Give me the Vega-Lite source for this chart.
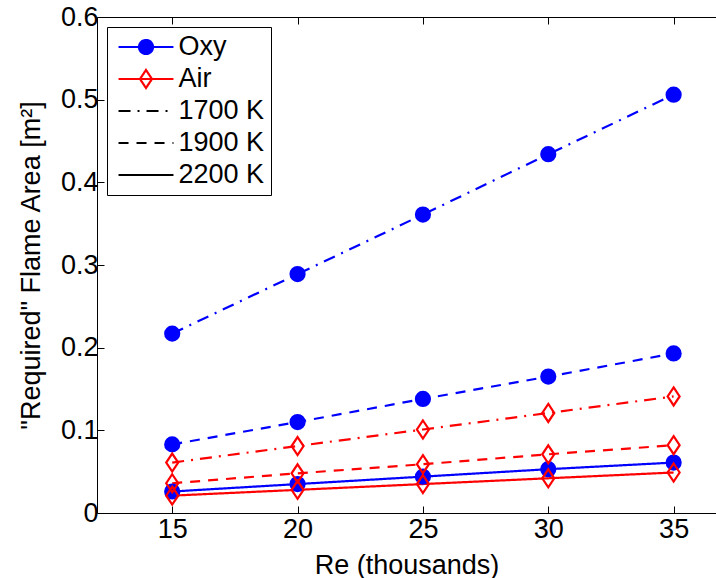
{
  "$schema": "https://vega.github.io/schema/vega-lite/v6.json",
  "width": 619,
  "height": 496,
  "autosize": {"type": "none"},
  "padding": {"left": 97, "top": 17, "right": 0, "bottom": 65},
  "background": "#ffffff",
  "config": {
    "view": {"stroke": null},
    "font": "Liberation Sans",
    "axis": {
      "domainColor": "#000000",
      "domainWidth": 1,
      "tickColor": "#000000",
      "tickWidth": 1,
      "tickSize": -7,
      "labelColor": "#000000",
      "labelFontSize": 27,
      "labelFont": "Liberation Sans",
      "titleFontSize": 27,
      "titleFont": "Liberation Sans",
      "titleFontWeight": "normal",
      "titleColor": "#000000",
      "grid": false
    },
    "legend": {
      "orient": "top-left",
      "offset": 10,
      "padding": 6.5,
      "strokeColor": "#000000",
      "fillColor": "#ffffff",
      "cornerRadius": 0,
      "labelFontSize": 27,
      "labelFont": "Liberation Sans",
      "labelColor": "#000000",
      "labelOffset": 19,
      "labelLimit": 300,
      "symbolOffset": 19,
      "symbolSize": 576,
      "symbolStrokeWidth": 2.2,
      "symbolOpacity": 1,
      "rowPadding": 4
    }
  },
  "datasets": {
    "main": [
      {"series": "Oxy", "temp": "1700 K", "re": 15, "area": 0.217},
      {"series": "Oxy", "temp": "1700 K", "re": 20, "area": 0.289},
      {"series": "Oxy", "temp": "1700 K", "re": 25, "area": 0.361},
      {"series": "Oxy", "temp": "1700 K", "re": 30, "area": 0.434},
      {"series": "Oxy", "temp": "1700 K", "re": 35, "area": 0.506},
      {"series": "Oxy", "temp": "1900 K", "re": 15, "area": 0.083},
      {"series": "Oxy", "temp": "1900 K", "re": 20, "area": 0.110},
      {"series": "Oxy", "temp": "1900 K", "re": 25, "area": 0.138},
      {"series": "Oxy", "temp": "1900 K", "re": 30, "area": 0.165},
      {"series": "Oxy", "temp": "1900 K", "re": 35, "area": 0.193},
      {"series": "Oxy", "temp": "2200 K", "re": 15, "area": 0.026},
      {"series": "Oxy", "temp": "2200 K", "re": 20, "area": 0.035},
      {"series": "Oxy", "temp": "2200 K", "re": 25, "area": 0.044},
      {"series": "Oxy", "temp": "2200 K", "re": 30, "area": 0.053},
      {"series": "Oxy", "temp": "2200 K", "re": 35, "area": 0.061},
      {"series": "Air", "temp": "1700 K", "re": 15, "area": 0.061},
      {"series": "Air", "temp": "1700 K", "re": 20, "area": 0.081},
      {"series": "Air", "temp": "1700 K", "re": 25, "area": 0.101},
      {"series": "Air", "temp": "1700 K", "re": 30, "area": 0.121},
      {"series": "Air", "temp": "1700 K", "re": 35, "area": 0.141},
      {"series": "Air", "temp": "1900 K", "re": 15, "area": 0.036},
      {"series": "Air", "temp": "1900 K", "re": 20, "area": 0.048},
      {"series": "Air", "temp": "1900 K", "re": 25, "area": 0.059},
      {"series": "Air", "temp": "1900 K", "re": 30, "area": 0.071},
      {"series": "Air", "temp": "1900 K", "re": 35, "area": 0.082},
      {"series": "Air", "temp": "2200 K", "re": 15, "area": 0.021},
      {"series": "Air", "temp": "2200 K", "re": 20, "area": 0.028},
      {"series": "Air", "temp": "2200 K", "re": 25, "area": 0.035},
      {"series": "Air", "temp": "2200 K", "re": 30, "area": 0.042},
      {"series": "Air", "temp": "2200 K", "re": 35, "area": 0.049}
    ],
    "keys": [
      {"key": "Oxy"},
      {"key": "Air"},
      {"key": "1700 K"},
      {"key": "1900 K"},
      {"key": "2200 K"}
    ]
  },
  "layer": [
    {
      "data": {"name": "main"},
      "mark": {"type": "line", "strokeWidth": 2.2},
      "encoding": {
        "x": {
          "field": "re", "type": "quantitative",
          "scale": {"domain": [12, 36.69], "nice": false, "zero": false},
          "axis": {"orient": "bottom", "values": [15, 20, 25, 30, 35], "format": "d", "title": "Re (thousands)", "labelPadding": 10, "titlePadding": 10}
        },
        "y": {
          "field": "area", "type": "quantitative",
          "scale": {"domain": [0, 0.6], "nice": false},
          "axis": {"values": [0, 0.1, 0.2, 0.3, 0.4, 0.5, 0.6], "labelExpr": "datum.value === 0 ? '0' : format(datum.value, '.1f')", "title": "\"Required\" Flame Area [m²]", "labelPadding": 6, "titlePadding": 15}
        },
        "color": {
          "field": "series", "type": "nominal",
          "scale": {"domain": ["Oxy", "Air"], "range": ["#0000ff", "#ff0000"]},
          "legend": null
        },
        "strokeDash": {
          "field": "temp", "type": "nominal",
          "scale": {"domain": ["1700 K", "1900 K", "2200 K"], "range": [[12, 7, 2, 7], [10, 8], [1, 0]]},
          "legend": null
        }
      }
    },
    {
      "data": {"name": "main"},
      "mark": {"type": "point", "size": 324, "strokeWidth": 2.2, "opacity": 1},
      "encoding": {
        "x": {
          "field": "re", "type": "quantitative",
          "scale": {"domain": [12, 36.69], "nice": false, "zero": false},
          "axis": {"orient": "top", "values": [15, 20, 25, 30, 35], "labels": false, "title": null}
        },
        "y": {
          "field": "area", "type": "quantitative",
          "scale": {"domain": [0, 0.6], "nice": false},
          "axis": {"values": [0, 0.1, 0.2, 0.3, 0.4, 0.5, 0.6], "labelExpr": "datum.value === 0 ? '0' : format(datum.value, '.1f')", "title": "\"Required\" Flame Area [m²]", "labelPadding": 6, "titlePadding": 15}
        },
        "shape": {
          "field": "series", "type": "nominal",
          "scale": {"domain": ["Oxy", "Air"], "range": ["M0.778,0A0.778,0.778,0,1,1,-0.778,0A0.778,0.778,0,1,1,0.778,0Z", "M0,-1L0.667,0L0,1L-0.667,0Z"]},
          "legend": null
        },
        "stroke": {
          "field": "series", "type": "nominal",
          "scale": {"domain": ["Oxy", "Air"], "range": ["#0000ff", "#ff0000"]},
          "legend": null
        },
        "fill": {
          "field": "series", "type": "nominal",
          "scale": {"domain": ["Oxy", "Air"], "range": ["#0000ff", "transparent"]},
          "legend": null
        }
      }
    },
    {
      "data": {"name": "keys"},
      "transform": [{"filter": "datum.key === 'legend only'"}],
      "mark": {"type": "point", "filled": true, "opacity": 1},
      "encoding": {
        "shape": {
          "field": "key", "type": "nominal",
          "scale": {"domain": ["Oxy", "Air", "1700 K", "1900 K", "2200 K"], "range": ["M-2.29,0H2.29M0.583,0A0.583,0.583,0,1,1,-0.583,0A0.583,0.583,0,1,1,0.583,0Z", "M-2.29,0H2.29M0,-0.75L0.5,0L0,0.75L-0.5,0Z", "M-2.29,0H2.29", "M-2.29,0H2.29", "M-2.29,0H2.29"]},
          "legend": {"title": null}
        },
        "stroke": {
          "field": "key", "type": "nominal",
          "scale": {"domain": ["Oxy", "Air", "1700 K", "1900 K", "2200 K"], "range": ["#0000ff", "#ff0000", "#000000", "#000000", "#000000"]},
          "legend": {"title": null}
        },
        "fill": {
          "field": "key", "type": "nominal",
          "scale": {"domain": ["Oxy", "Air", "1700 K", "1900 K", "2200 K"], "range": ["#0000ff", "transparent", "transparent", "transparent", "transparent"]},
          "legend": {"title": null}
        },
        "strokeDash": {
          "field": "key", "type": "nominal",
          "scale": {"domain": ["Oxy", "Air", "1700 K", "1900 K", "2200 K"], "range": [[1, 0], [1, 0], [12, 7, 2, 7], [10, 8], [1, 0]]},
          "legend": {"title": null}
        }
      }
    }
  ],
  "resolve": {
    "axis": {"x": "independent"},
    "scale": {"color": "independent", "stroke": "independent", "fill": "independent", "shape": "independent", "strokeDash": "independent"}
  }
}
